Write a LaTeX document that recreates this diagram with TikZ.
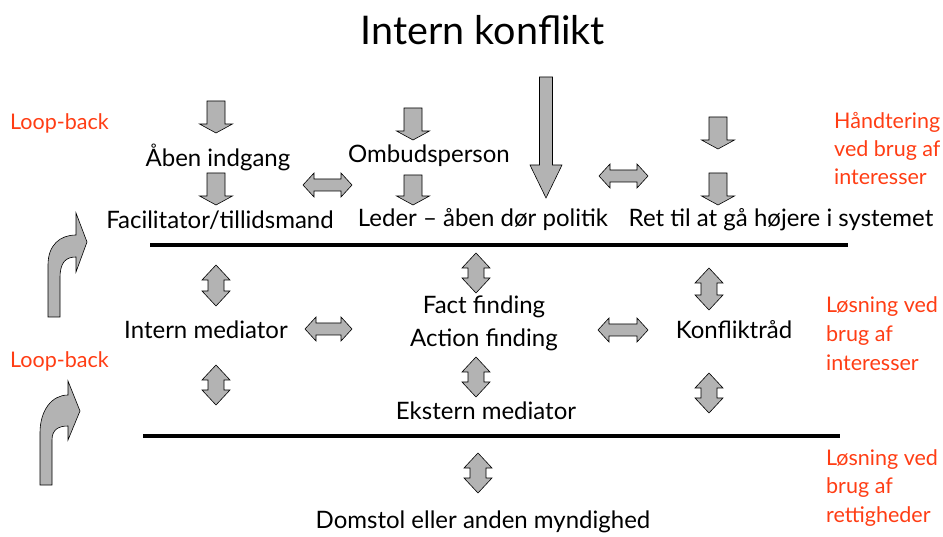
\documentclass[tikz,border=0pt]{standalone}
\usepackage{fontspec}
\setmainfont{Lato}
\definecolor{arrgray}{HTML}{B3B3B3}
\definecolor{redtxt}{HTML}{FF3D14}
\tikzset{
  blk/.style={fill=arrgray,draw=black,line width=0.6pt,line join=miter},
  lbl/.style={inner sep=0pt,font=\fontsize{24}{28}\selectfont,text=black},
  red/.style={inner sep=0pt,font=\fontsize{21.5}{28}\selectfont,text=redtxt,anchor=base west},
  bar/.style={line width=4pt},
}
\newcommand\downblk[3]{% x, ytop, ytip
  \draw[blk] ({#1-9},#2) -- ({#1+9},#2) -- ({#1+9},{#3-9}) -- ({#1+16.5},{#3-9}) -- (#1,#3) -- ({#1-16.5},{#3-9}) -- ({#1-9},{#3-9}) -- cycle;}
\newcommand\vdbl[3]{% x, ytop, ybot
  \draw[blk] (#1,#2) -- ({#1+14},{#2+15}) -- ({#1+8},{#2+15}) -- ({#1+8},{#3-15}) -- ({#1+14},{#3-15}) -- (#1,#3) -- ({#1-14},{#3-15}) -- ({#1-8},{#3-15}) -- ({#1-8},{#2+15}) -- ({#1-14},{#2+15}) -- cycle;}
\newcommand\hdbl[3]{% xl, xr, y
  \draw[blk] (#1,#3) -- ({#1+11},{#3-12}) -- ({#1+11},{#3-6}) -- ({#2-11},{#3-6}) -- ({#2-11},{#3-12}) -- (#2,#3) -- ({#2-11},{#3+12}) -- ({#2-11},{#3+6}) -- ({#1+11},{#3+6}) -- ({#1+11},{#3+12}) -- cycle;}
\begin{document}
\begin{tikzpicture}[x=1pt,y=-1pt]
\useasboundingbox (0,0) rectangle (943,537);
% title
\node[inner sep=0pt,font=\fontsize{39.5}{44}\selectfont] (title) at (483,30) {Intern konflikt};
% top level text
\node[lbl] (aben) at (218,157) {Åben indgang};
\node[lbl] (ombud) at (429,156) {Ombudsperson};
\node[lbl] (facil) at (220,220) {Facilitator/tillidsmand};
\node[lbl] (leder) at (483,220) {Leder – åben dør politik};
\node[lbl] (ret) at (781,220) {Ret til at gå højere i systemet};
% middle level
\node[lbl] (intmed) at (206,330) {Intern mediator};
\node[lbl] (fact) at (484,307) {Fact finding};
\node[lbl] (action) at (484,340) {Action finding};
\node[lbl] (konfl) at (734,330) {Konfliktråd};
\node[lbl] (ekst) at (486,411) {Ekstern mediator};
\node[lbl] (dom) at (483,522) {Domstol eller anden myndighed};
% red labels
\node[red] (loop1) at (10,130) {Loop-back};
\node[red] (loop2) at (10,368) {Loop-back};
\node[red] (hand1) at (834,129) {Håndtering};
\node[red] (hand2) at (834,157) {ved brug af};
\node[red] (hand3) at (834,185) {interesser};
\node[red] (losa1) at (826,313) {Løsning ved};
\node[red] (losa2) at (826,342) {brug af};
\node[red] (losa3) at (826,371) {interesser};
\node[red] (losb1) at (826,465) {Løsning ved};
\node[red] (losb2) at (826,493) {brug af};
\node[red] (losb3) at (826,522) {rettigheder};
% bars
\coordinate (b1l) at (150,245); \coordinate (b1r) at (848,245);
\coordinate (b2l) at (143,436); \coordinate (b2r) at (840,436);
\draw[bar] (b1l) -- (b1r);
\draw[bar] (b2l) -- (b2r);
% down arrows
\downblk{216}{101}{133}
\downblk{216}{173}{205}
\downblk{413}{108}{140}
\downblk{413}{175}{205}
\downblk{718}{117}{149}
\downblk{718}{173}{205}
% big arrow
\draw[blk] (539.5,77) -- (552.5,77) -- (552.5,165) -- (562,165) -- (546,198) -- (530,165) -- (539.5,165) -- cycle;
% horizontal double arrows
\hdbl{303}{352}{185}
\hdbl{599}{648}{176}
\hdbl{305}{352}{329}
\hdbl{598}{648}{330}
% vertical double arrows
\vdbl{216}{265}{306}
\vdbl{216}{365}{405}
\vdbl{476}{253}{293}
\vdbl{476}{357}{397}
\vdbl{709}{268}{310}
\vdbl{709}{373}{413}
\vdbl{478}{453}{493}
% loop-back curved arrows
\draw[blk] (48,317) -- (48,265) .. controls (48,245) and (60,235) .. (76,235) -- (76,213) -- (87,242) -- (76,272) -- (76,257) .. controls (66,257) and (60,262) .. (60,278) -- (60,317) -- cycle;
\draw[blk] (40,485) -- (40,433) .. controls (40,410) and (52,395) .. (68,395) -- (68,381) -- (80,411) -- (68,440) -- (68,426) .. controls (58,426) and (52,430) .. (52,440) -- (52,485) -- cycle;
\end{tikzpicture}
\end{document}
